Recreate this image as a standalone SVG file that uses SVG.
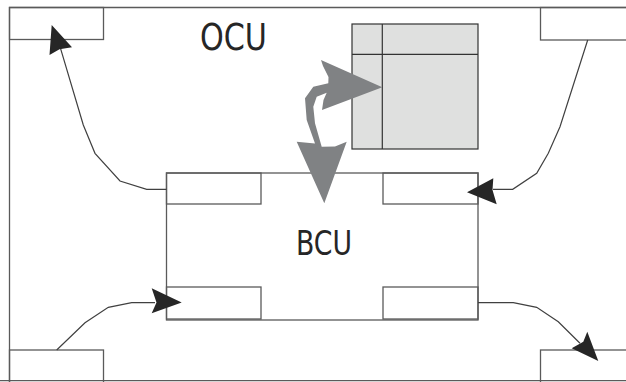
<svg xmlns="http://www.w3.org/2000/svg" width="626" height="382" viewBox="0 0 626 382">
<style>
.box{fill:none;stroke:#5a5a5a;stroke-width:1.3}
.wire{fill:none;stroke:#404040;stroke-width:1.2}
.head{fill:#262626;stroke:none}
.lbl{font-family:"DejaVu Sans Condensed","DejaVu Sans",sans-serif;fill:#262626}
</style>
<rect width="626" height="382" fill="#fff"/>
<g id="frame">
<path class="box" d="M626 7.5 H9.5 V382"/>
<path class="box" d="M0 380.7 H626" stroke="#999"/>
</g>
<g id="ocu-label"><text class="lbl" x="200" y="50" font-size="37" textLength="67" lengthAdjust="spacingAndGlyphs">OCU</text></g>
<g id="port-tl"><rect class="box" x="9.5" y="7.5" width="94" height="32"/></g>
<g id="port-tr"><rect class="box" x="540.5" y="7.5" width="90" height="32.5"/></g>
<g id="port-bl"><rect class="box" x="9.5" y="350" width="94" height="40"/></g>
<g id="port-br"><rect class="box" x="540.5" y="350" width="90" height="40"/></g>
<g id="table">
<rect x="352" y="24" width="126" height="125" fill="#dfe0df" stroke="#333" stroke-width="1.2"/>
<path d="M382.3 24 V149 M352 54.3 H478" stroke="#333" stroke-width="1.2" fill="none"/>
</g>
<g id="bcu">
<rect class="box" x="166.5" y="173" width="311.5" height="147"/>
<rect class="box" x="166.5" y="173" width="94.5" height="31"/>
<rect class="box" x="383" y="173" width="95" height="31"/>
<rect class="box" x="166.5" y="287" width="94.5" height="32"/>
<rect class="box" x="383" y="287" width="95" height="32"/>
<text class="lbl" x="296" y="255" font-size="34" textLength="56" lengthAdjust="spacingAndGlyphs">BCU</text>
</g>
<g id="connectors">
<path class="wire" d="M166.5 189.3 H146.7 L120 181 L95 153.3 L83.3 125 L60 46.7"/>
<path class="head" d="M51.7 25 L72 47.3 L59.5 49.3 L49.5 55 Z"/>
<path class="wire" d="M587.7 40 L560 126.7 L548.3 153.3 L536.7 173.3 L512.7 189.3 H493"/>
<path class="head" d="M467 192.3 L493.3 178.3 L492.5 190 L496.7 204.3 Z"/>
<path class="wire" d="M56.7 350 L85 322.7 L108.3 307.3 L131.7 302.7 H155"/>
<path class="head" d="M181.7 302.5 L151.7 288.3 L156.5 302.5 L151.7 313.3 Z"/>
<path class="wire" d="M478 302.7 H513.3 L536.7 307.3 L558.3 321.7 L580 343.3"/>
<path class="head" d="M598.3 361 L571.7 348.3 L583.3 341.7 L587.3 331.7 Z"/>
<path fill="#808284" d="M382.3 87.3 L321 60 L323 66 L325.5 71 L328.5 77 L328.3 83.3 L313.3 86.7 L305 98.3 L306.7 120 L315 143.5 L296.7 141.7 L324.3 203.3 L346.7 141.7 L335 146.5 L321.7 146.7 L315 123.3 L313.3 106.7 L316.7 96.7 L326.7 92.7 L323.5 100 L322 110 Z"/>
</g>
</svg>
